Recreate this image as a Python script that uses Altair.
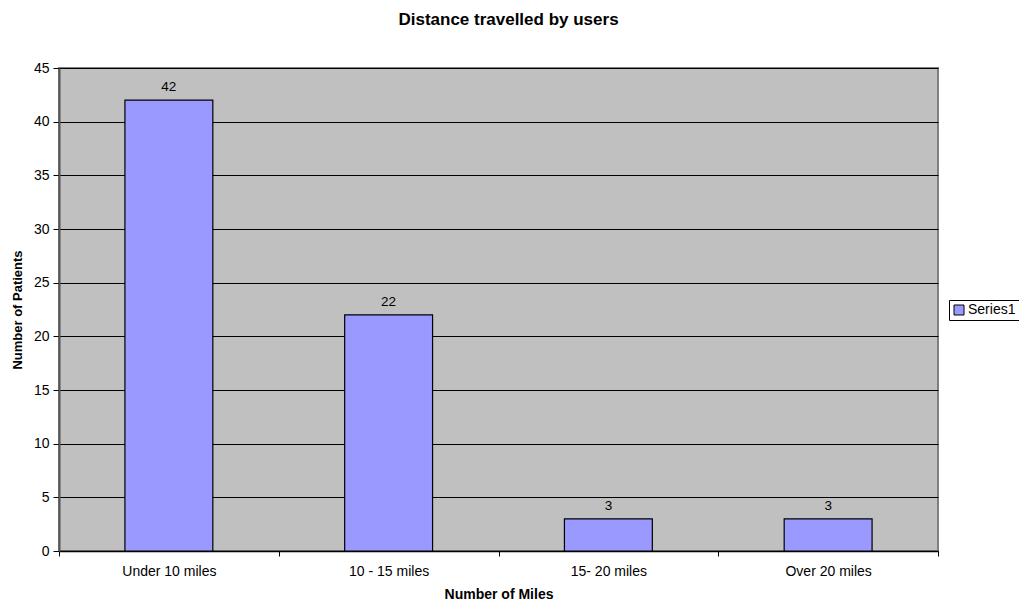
import altair as alt
import pandas as pd

categories = ["Under 10 miles", "10 - 15 miles", "15- 20 miles", "Over 20 miles"]
values = [42, 22, 3, 3]
series = ["Series1"] * 4
y_ticks = [0, 5, 10, 15, 20, 25, 30, 35, 40, 45]

df = pd.DataFrame({"cat": categories, "val": values, "series": series})

FONT = "Liberation Sans"

x_enc = alt.X(
    "cat:N",
    sort=categories,
    scale=alt.Scale(paddingInner=0, paddingOuter=0),
    axis=alt.Axis(
        title="Number of Miles",
        labelAngle=0,
        tickBand="extent",
        tickSize=5,
        tickColor="black",
        domainColor="black",
        domainWidth=1.5,
        labelFontSize=14,
        labelPadding=8,
        labelColor="black",
        titleFontSize=14,
        titleFontWeight="bold",
        titleColor="black",
        titlePadding=9,
        labelFont=FONT,
        titleFont=FONT,
    ),
)

y_enc = alt.Y(
    "val:Q",
    scale=alt.Scale(domain=[0, 45], nice=False),
    axis=alt.Axis(
        title="Number of Patients",
        values=y_ticks,
        grid=True,
        gridColor="black",
        gridWidth=1,
        gridOpacity=1,
        tickSize=6,
        tickColor="black",
        domainColor="#555555",
        domainWidth=2,
        labelFontSize=14,
        labelPadding=4,
        labelColor="black",
        titleFontSize=13,
        titleFontWeight="bold",
        titleColor="black",
        titlePadding=9,
        labelFont=FONT,
        titleFont=FONT,
    ),
)

base = alt.Chart(df).encode(x=x_enc)

bars = base.mark_bar(
    width=alt.RelativeBandSize(0.4), stroke="black", strokeWidth=1.2
).encode(
    y=y_enc,
    color=alt.Color(
        "series:N",
        scale=alt.Scale(range=["#9999FF"]),
        legend=alt.Legend(
            title=None,
            orient="none",
            legendX=890,
            legendY=232,
            symbolType="square",
            symbolSize=100,
            symbolStrokeColor="black",
            symbolStrokeWidth=1,
            labelFontSize=14,
            labelFont=FONT,
            labelColor="black",
            strokeColor="black",
            fillColor="white",
            padding=3,
            labelOffset=2,
        ),
    ),
)

labels = base.mark_text(
    baseline="bottom", dy=-6, fontSize=13.5, font=FONT, color="black"
).encode(y="val:Q", text="val:Q")

chart = (
    alt.layer(bars, labels)
    .properties(
        width=879,
        height=483,
        padding={"left": 59, "top": 68, "right": 81, "bottom": 51},
        autosize=alt.AutoSizeParams(type="none"),
        title=alt.TitleParams(
            "Distance travelled by users",
            fontSize=17,
            fontWeight="bold",
            font=FONT,
            color="black",
            anchor="middle",
            dx=10,
            offset=32,
        ),
        background="white",
    )
    .configure_view(fill="#C0C0C0", stroke="#808080", strokeWidth=2)
)

chart.save("out.html", embed_options={"renderer": "svg", "actions": False})
